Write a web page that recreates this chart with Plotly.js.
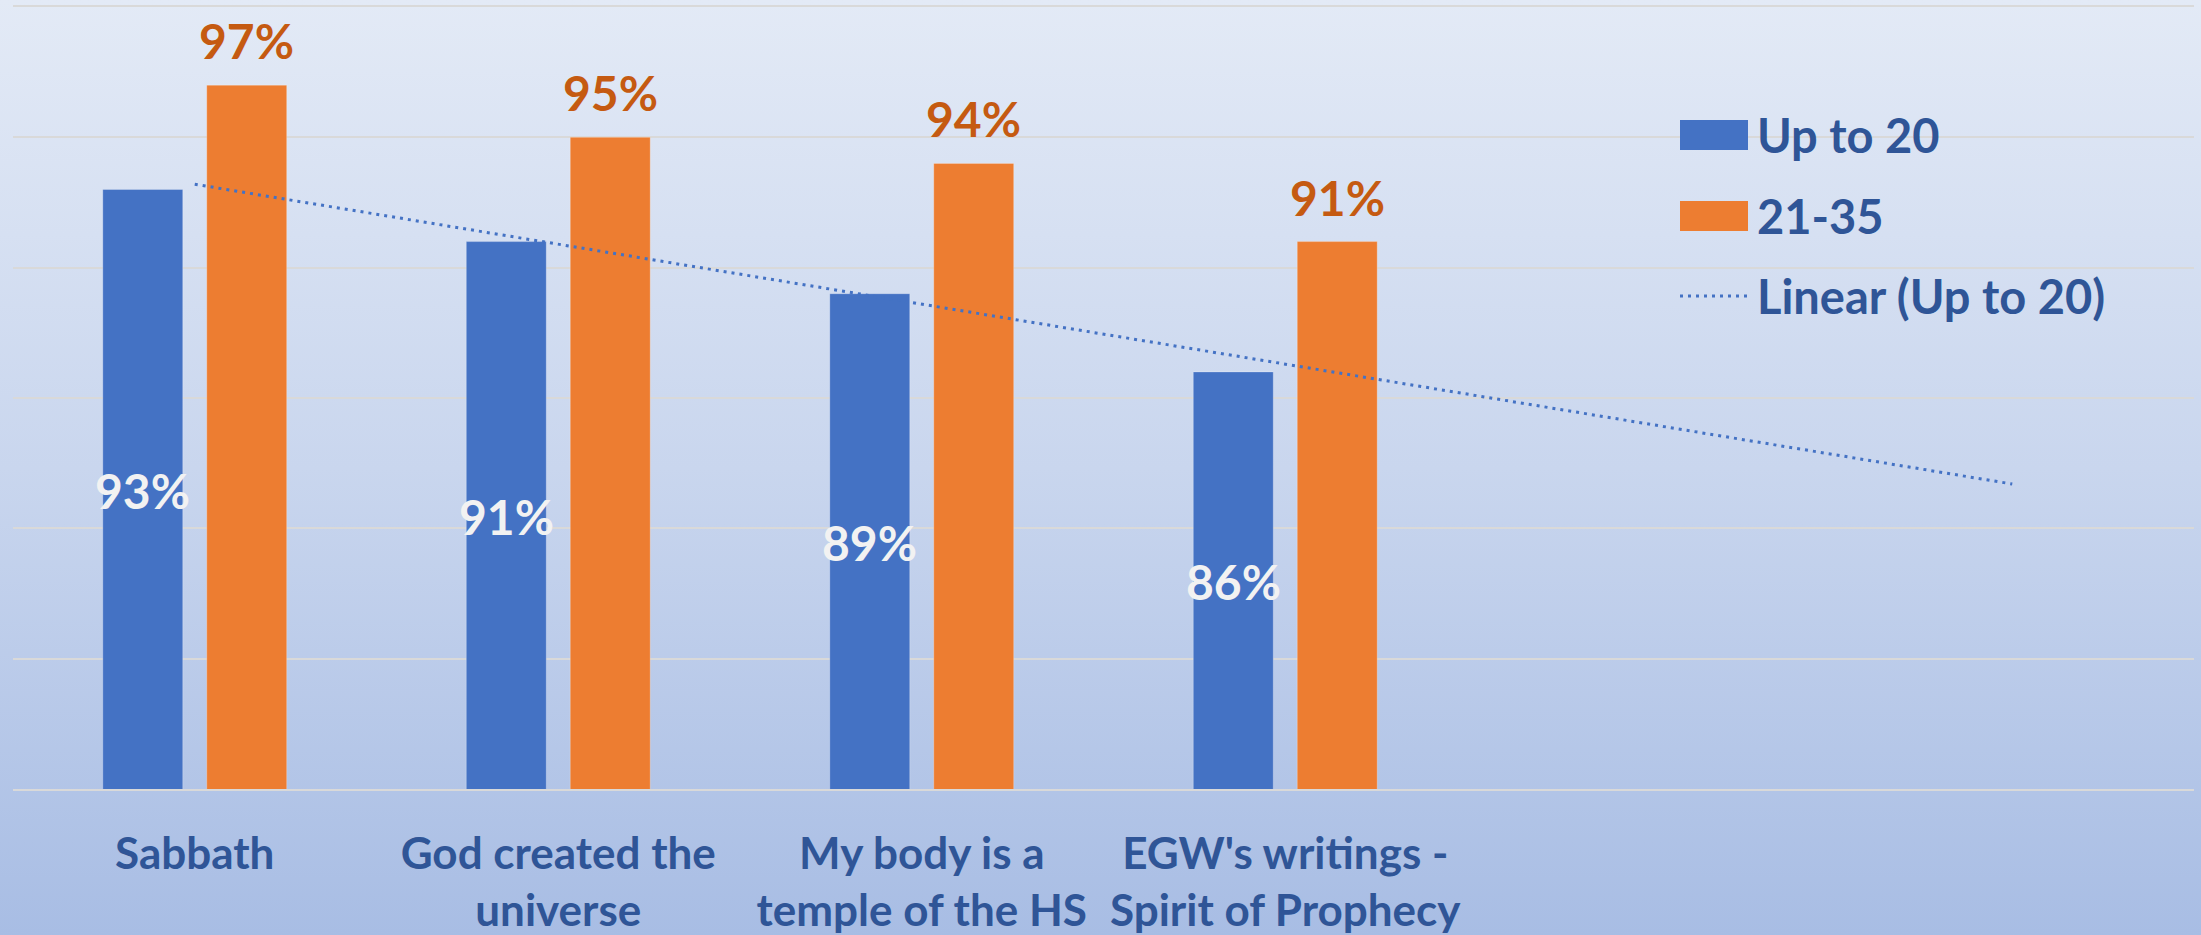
<!DOCTYPE html>
<html><head><meta charset="utf-8">
<script src="https://cdn.plot.ly/plotly-3.0.1.min.js"></script>
<style>
html,body{margin:0;padding:0;width:2201px;height:935px;overflow:hidden;
background:linear-gradient(to bottom,#E3EAF6 0%,#C9D6EE 50%,#A8BDE4 100%);}
#chart{width:2201px;height:935px;}
</style>
</head><body><div id="chart"></div>
<script>
// ---- data ----
const categories = ["Sabbath", "God created the<br>universe", "My body is a<br>temple of the HS", "EGW's writings -<br>Spirit of Prophecy"];
const seriesNames = ["Up to 20", "21-35"];
const upTo20 = [93, 91, 89, 86];
const age21to35 = [97, 95, 94, 91];
const trendName = "Linear (Up to 20)";
const trendForward = 2;          // periods the trendline is extended forward
const yRange = [70, 100];
const yTicks = [70, 75, 80, 85, 90, 95, 100];

// ---- derived ----
const idx = categories.map((_, i) => i);
const n = upTo20.length;
const mx = idx.reduce((a, b) => a + b, 0) / n;
const my = upTo20.reduce((a, b) => a + b, 0) / n;
let sxy = 0, sxx = 0;
for (let i = 0; i < n; i++) { sxy += (idx[i] - mx) * (upTo20[i] - my); sxx += (idx[i] - mx) ** 2; }
const slope = sxy / sxx, intercept = my - slope * mx;
const trendX = [0, n - 1 + trendForward];
const trendY = trendX.map(x => intercept + slope * x);

const BLUE = '#4472C4', ORANGE = '#ED7D31', TXT = '#2F5597', GRID = '#D9D9D9';
const FONT = 'Lato, "Open Sans", sans-serif';

const W = 2201, H = 935, M = {l: 13, r: 7, t: 7, b: 146};
const pw = W - M.l - M.r, ph = H - M.t - M.b;
const px = x => (x - M.l) / pw, py = y => (H - M.b - y) / ph;

const traces = [
  {type: 'bar', name: seriesNames[0], x: idx, y: upTo20,
   marker: {color: BLUE, line: {color: 'rgba(255,255,255,0.25)', width: 1}},
   hoverinfo: 'skip', showlegend: false},
  {type: 'bar', name: seriesNames[1], x: idx, y: age21to35,
   marker: {color: ORANGE, line: {color: 'rgba(255,255,255,0.25)', width: 1}},
   hoverinfo: 'skip', showlegend: false},
  {type: 'scatter', mode: 'lines', name: trendName, x: trendX, y: trendY,
   line: {color: BLUE, width: 3, dash: '3px,5px'}, hoverinfo: 'skip', showlegend: false}
];

const annotations = [];
upTo20.forEach((v, i) => annotations.push({
  x: idx[i], y: (yRange[0] + v) / 2, xref: 'x', yref: 'y', text: v + '%', showarrow: false,
  xanchor: 'center', yanchor: 'middle', xshift: -52, yshift: -1,
  font: {family: FONT, size: 48, color: '#F2F2F2', weight: 700}
}));
age21to35.forEach((v, i) => annotations.push({
  x: idx[i], y: v, xref: 'x', yref: 'y', text: v + '%', showarrow: false,
  xanchor: 'center', yanchor: 'bottom', xshift: 52, yshift: 14,
  font: {family: FONT, size: 48, color: '#C55A11', weight: 700}
}));

// custom legend
const legendRows = [
  {name: seriesNames[0], kind: 'box', color: BLUE, cy: 135},
  {name: seriesNames[1], kind: 'box', color: ORANGE, cy: 216},
  {name: trendName, kind: 'line', color: BLUE, cy: 296}
];
const shapes = [];
legendRows.forEach(r => {
  if (r.kind === 'box') {
    shapes.push({type: 'rect', xref: 'paper', yref: 'paper', x0: px(1680), x1: px(1748),
      y0: py(r.cy + 15), y1: py(r.cy - 15), fillcolor: r.color, line: {width: 0}});
  } else {
    shapes.push({type: 'line', xref: 'paper', yref: 'paper', x0: px(1680), x1: px(1748),
      y0: py(r.cy), y1: py(r.cy), line: {color: r.color, width: 3, dash: '3px,5px'}});
  }
  annotations.push({xref: 'paper', yref: 'paper', x: px(1755), y: py(r.cy), text: r.name,
    showarrow: false, xanchor: 'left', yanchor: 'middle',
    font: {family: FONT, size: 47, color: TXT, weight: 700}});
});

const layout = {
  width: W, height: H, margin: M,
  paper_bgcolor: 'rgba(0,0,0,0)', plot_bgcolor: 'rgba(0,0,0,0)',
  barmode: 'group', bargap: 0.428, bargroupgap: 0.2308,
  showlegend: false,
  xaxis: {type: 'linear', range: [-0.5, 5.5], tickvals: idx, ticktext: categories,
    showgrid: false, zeroline: false, showline: true, mirror: true,
    linecolor: GRID, linewidth: 2, ticks: '',
    ticklabelstandoff: 25,
    tickfont: {family: FONT, size: 44, color: TXT, weight: 700}, fixedrange: true},
  yaxis: {range: yRange, tickvals: yTicks, showticklabels: false, showgrid: true,
    gridcolor: GRID, gridwidth: 2, zeroline: false, showline: false, ticks: '',
    fixedrange: true},
  annotations: annotations, shapes: shapes
};

Plotly.newPlot('chart', traces, layout, {displayModeBar: false, staticPlot: true});
</script>
</body></html>
